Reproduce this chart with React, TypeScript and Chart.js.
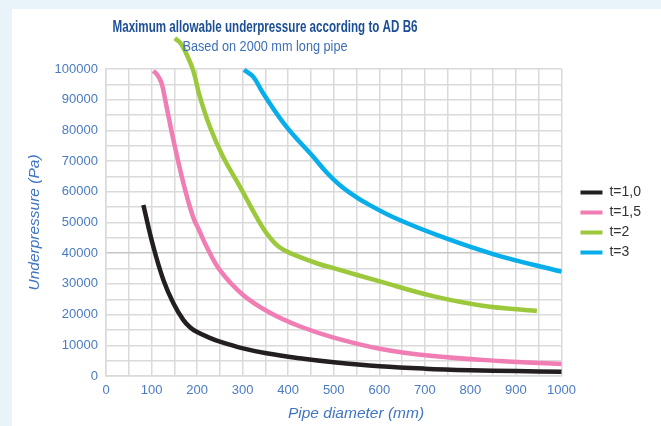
import { useEffect, useRef } from 'react';
import { Chart, registerables } from 'chart.js';

Chart.register(...registerables);

const TITLE = 'Maximum allowable underpressure according to AD B6';
const SUBTITLE = 'Based on 2000 mm long pipe';
const X_TITLE = 'Pipe diameter (mm)';
const Y_TITLE = 'Underpressure (Pa)';

const seriesLabels = ['t=1,0', 't=1,5', 't=2', 't=3'];
const seriesColors = ['#231f20', '#f07db4', '#9cc83b', '#07aeea'];

const diamT10 = [82, 104, 126, 148, 170, 185, 199, 225, 250, 301, 352, 425, 500, 601, 700, 800, 900, 1000];
const pressT10 = [55700, 42100, 31300, 23700, 18200, 15800, 14400, 12600, 11200, 9000, 7400, 5800, 4500, 3200, 2400, 1900, 1600, 1400];

const diamT15 = [104, 112, 122, 133, 148, 170, 191, 206, 221, 250, 301, 360, 425, 498, 601, 718, 864, 1000];
const pressT15 = [99400, 98200, 95400, 87700, 76900, 62800, 51900, 47000, 42100, 34500, 26400, 20600, 16200, 12600, 8900, 6500, 4900, 3900];

const diamT2 = [151, 163, 173, 191, 206, 228, 257, 294, 330, 355, 380, 411, 469, 498, 601, 718, 827, 946];
const pressT2 = [110000, 108500, 106000, 99700, 91000, 81200, 71400, 61700, 51900, 46000, 42000, 39600, 36400, 35200, 30800, 26000, 22900, 21200];

const diamT3 = [303, 323, 345, 396, 455, 485, 513, 540, 564, 637, 747, 857, 1000];
const pressT3 = [99700, 97500, 92100, 81200, 71400, 66200, 62200, 59200, 56900, 51300, 44800, 39400, 34000];

const xTicksStep = 50;
const yTicksStep = 5000;

const TICK_COLOR = '#4a7bc2';
const AXIS_TITLE_COLOR = '#3f74c2';
const GRID_COLOR = '#dadada';
const FONT = '"Liberation Sans", Arial, sans-serif';

const pairs = (xs: number[], ys: number[]) => xs.map((x, i) => ({ x, y: ys[i] }));

const textPlugin = {
  id: 'headerTexts',
  afterDraw(chart: any) {
    const ctx = chart.ctx as CanvasRenderingContext2D;
    ctx.save();
    ctx.textAlign = 'center';
    ctx.textBaseline = 'alphabetic';
    ctx.fillStyle = '#1c4f95';
    ctx.font = `bold 16px ${FONT}`;
    ctx.fillText(TITLE, 265, 31.5, 305);
    ctx.fillStyle = '#3d6fb6';
    ctx.font = `15.5px ${FONT}`;
    ctx.fillText(SUBTITLE, 265, 50.5, 165);
    ctx.fillStyle = AXIS_TITLE_COLOR;
    ctx.font = `italic 15.5px ${FONT}`;
    ctx.fillText(X_TITLE, 356, 418);
    ctx.restore();
  },
};

export default function App() {
  const ref = useRef<HTMLCanvasElement>(null);
  useEffect(() => {
    const all = [
      pairs(diamT10, pressT10),
      pairs(diamT15, pressT15),
      pairs(diamT2, pressT2),
      pairs(diamT3, pressT3),
    ];
    const chart = new Chart(ref.current!, {
      type: 'line',
      data: {
        datasets: all.map((d, i) => ({
          label: seriesLabels[i],
          data: d,
          borderColor: seriesColors[i],
          backgroundColor: seriesColors[i],
          borderWidth: 4.5,
          pointRadius: 0,
          tension: 0.4,
          clip: false as any,
        })),
      },
      options: {
        animation: false,
        responsive: false,
        devicePixelRatio: 1,
        layout: { padding: { left: 12, top: 69, right: 10, bottom: 0 } },
        plugins: {
          title: { display: false },
          tooltip: { enabled: false },
          legend: {
            position: 'right',
            align: 'center',
            fullSize: false,
            labels: {
              boxWidth: 22,
              boxHeight: 4,
              padding: 6,
              color: '#333333',
              font: { family: FONT, size: 14 },
              generateLabels: (c: any) =>
                (Chart.defaults.plugins.legend.labels.generateLabels as any)(c).map((l: any) => ({
                  ...l,
                  lineWidth: 0,
                  fillStyle: seriesColors[l.datasetIndex],
                })),
            },
          },
        },
        scales: {
          x: {
            type: 'linear',
            min: 0,
            max: 1000,
            ticks: {
              stepSize: xTicksStep,
              autoSkip: false,
              maxRotation: 0,
              padding: 7,
              color: TICK_COLOR,
              font: { family: FONT, size: 13 },
              callback: (v: any) => (Number(v) % 100 === 0 ? String(v) : ''),
            },
            grid: { color: GRID_COLOR, lineWidth: 1.5, drawTicks: false },
            border: { color: GRID_COLOR, width: 1.5 },
            afterFit: (s: any) => {
              s.height = 50;
            },
          },
          y: {
            type: 'linear',
            min: 0,
            max: 100000,
            ticks: {
              stepSize: yTicksStep,
              autoSkip: false,
              padding: 8,
              color: TICK_COLOR,
              font: { family: FONT, size: 13 },
              callback: (v: any) => (Number(v) % 10000 === 0 ? String(v) : ''),
            },
            grid: {
              color: (c: any) => (c.tick && c.tick.value === 40000 ? '#c6c6c6' : GRID_COLOR),
              lineWidth: 1.5,
              drawTicks: false,
            },
            border: { color: GRID_COLOR, width: 1.5 },
            title: {
              display: true,
              text: Y_TITLE,
              color: AXIS_TITLE_COLOR,
              font: { family: FONT, size: 15.5, style: 'italic' },
              padding: { top: 13.7, bottom: 0 },
            },
            afterFit: (s: any) => {
              s.width = 94;
            },
          },
          gap: {
            type: 'linear',
            position: 'right',
            display: true,
            min: 0,
            max: 1,
            ticks: { display: false },
            grid: { display: false, drawOnChartArea: false },
            border: { display: false },
            afterFit: (s: any) => {
              s.width = 13;
            },
          },
        },
      },
      plugins: [textPlugin],
    } as any);
    return () => chart.destroy();
  }, []);
  return (
    <div
      style={{
        position: 'fixed',
        left: 0,
        top: 0,
        width: 661,
        height: 426,
        background: '#e8f4fa',
        overflow: 'hidden',
      }}
    >
      <div style={{ position: 'absolute', left: 12, top: 9, right: 0, bottom: 0, background: '#ffffff' }} />
      <canvas
        ref={ref}
        width={661}
        height={426}
        style={{ position: 'absolute', left: 0, top: 0, width: 661, height: 426 }}
      />
    </div>
  );
}
